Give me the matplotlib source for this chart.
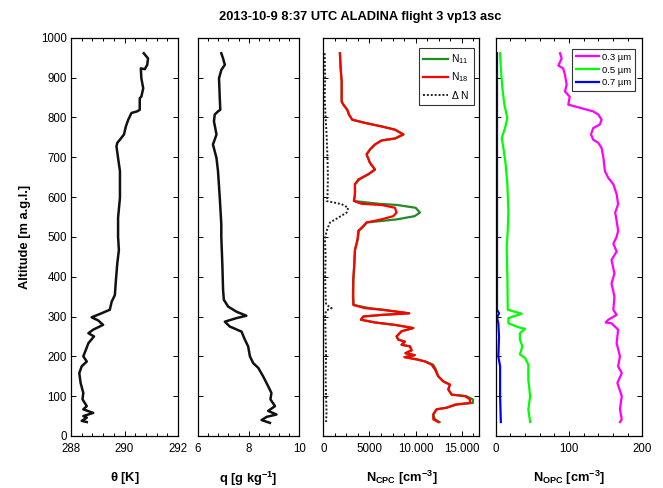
import matplotlib
matplotlib.use("Agg")
import matplotlib.pyplot as plt
from matplotlib.ticker import MultipleLocator, FixedLocator, FixedFormatter

plt.rcParams['font.family'] = ['Liberation Sans', 'DejaVu Sans']
plt.rcParams['mathtext.fontset'] = 'custom'
plt.rcParams['mathtext.rm'] = 'Liberation Sans'
plt.rcParams['mathtext.bf'] = 'Liberation Sans:bold'
plt.rcParams['mathtext.it'] = 'Liberation Sans:italic'

title = "2013-10-9 8:37 UTC ALADINA flight 3 vp13 asc"

# potential temperature
theta_alt = [961, 948, 932, 921, 923, 898, 873, 852, 848, 819, 815, 811, 794, 777, 757,
             744, 736, 727, 698, 665, 598, 548, 500, 467, 433, 392, 354, 337, 317, 308,
             298, 290, 279, 267, 258, 250, 233, 217, 200, 187, 175, 158, 133, 108, 92,
             75, 67, 58, 50, 46, 38, 35]
theta = [290.72, 290.88, 290.85, 290.76, 290.61, 290.63, 290.70, 290.63, 290.57, 290.57,
         290.47, 290.26, 290.14, 290.05, 289.98, 289.83, 289.73, 289.70, 289.76, 289.83,
         289.83, 289.76, 289.76, 289.79, 289.73, 289.68, 289.64, 289.52, 289.45, 289.14,
         288.77, 289.02, 289.20, 288.83, 288.65, 288.86, 288.65, 288.56, 288.46, 288.59,
         288.40, 288.31, 288.36, 288.46, 288.43, 288.59, 288.46, 288.83, 288.46, 288.59,
         288.40, 288.59]

# specific humidity
q_alt = [961, 948, 932, 919, 898, 848, 819, 815, 807, 790, 757, 744, 732, 698, 665,
         598, 532, 500, 433, 367, 342, 325, 312, 302, 296, 287, 275, 262, 242, 225,
         200, 183, 171, 150, 125, 108, 92, 75, 63, 54, 48, 40, 33]
q = [6.92, 6.99, 7.06, 6.92, 6.83, 6.86, 6.88, 6.79, 6.66, 6.63, 6.73, 6.66, 6.59, 6.73,
     6.79, 6.86, 6.92, 6.92, 6.96, 6.99, 7.02, 7.19, 7.52, 7.91, 7.52, 7.06, 7.25, 7.72,
     7.85, 7.98, 8.05, 8.18, 8.38, 8.57, 8.77, 8.90, 8.86, 9.04, 8.77, 9.10, 8.71, 8.51,
     8.84]

# CPC particle number concentrations
cpc_alt = [961, 923, 890, 840, 832, 819, 807, 794, 786, 777, 769, 757, 747, 742, 732,
           719, 707, 686, 669, 657, 644, 632, 607, 590, 583, 580, 573, 561, 552, 544,
           536, 527, 515, 494, 467, 433, 392, 350, 329, 321, 317, 308, 304, 300, 292,
           285, 279, 271, 263, 250, 242, 237, 229, 225, 215, 208, 203, 198, 192, 187,
           179, 167, 150, 137, 129, 117, 104, 100, 92, 83, 79, 71, 67, 54, 42, 35]
n18 = [1800, 1880, 1990, 1990, 2170, 2600, 2780, 3140, 4510, 6320, 7760, 8660, 7760, 6320,
       5600, 5050, 4690, 5050, 5600, 4870, 3790, 3430, 3430, 3320, 4150, 6320, 7760, 7940,
       7580, 6320, 4690, 4330, 3790, 3700, 3430, 3360, 3250, 3250, 3250, 4510, 6320, 9310,
       6320, 4330, 4080, 5600, 7760, 9750, 8480, 7940, 8120, 8840, 8480, 9390, 9570, 8900,
       9900, 8800, 10200, 11010, 11730, 12090, 12450, 13000, 13720, 13540, 13900, 15340,
       15880, 15880, 14260, 13360, 12270, 11910, 11910, 12450]
n11 = [1800, 1880, 1990, 1990, 2170, 2600, 2780, 3140, 4600, 6400, 7800, 8700, 7800, 6320,
       5600, 5050, 4690, 5050, 5600, 4870, 3900, 3430, 3430, 3320, 6000, 8000, 10000, 10470,
       9900, 8000, 4700, 4400, 3850, 3750, 3430, 3360, 3250, 3200, 3300, 5000, 6500, 9310,
       6320, 4330, 4080, 5600, 7760, 9750, 8480, 7940, 8120, 8840, 8480, 9390, 9570, 8900,
       9900, 8800, 10200, 11100, 11900, 12200, 12450, 13000, 13720, 13540, 13900, 15500,
       16200, 16200, 14500, 13360, 12270, 11910, 12100, 12600]
dn_alt = [961, 900, 850, 800, 760, 700, 650, 600, 590, 582, 573, 561, 548, 536, 515, 494,
          450, 400, 350, 330, 321, 315, 300, 250, 200, 150, 100, 60, 35]
dn = [150, 200, 150, 250, 350, 450, 500, 450, 360, 1990, 2700, 2530, 1620, 720, 360, 180,
      250, 200, 250, 300, 900, 300, 200, 250, 300, 250, 300, 350, 300]

# OPC size channels
o3_alt = [961, 948, 930, 923, 907, 882, 865, 852, 832, 825, 815, 807, 794, 782, 773,
          757, 744, 736, 723, 698, 665, 648, 632, 607, 582, 561, 540, 515, 500, 483,
          463, 442, 408, 383, 350, 317, 304, 292, 285, 283, 267, 233, 200, 175, 158,
          133, 100, 67, 42, 35]
o3 = [87.7, 90, 85.5, 92, 94.5, 96.8, 94.5, 101, 99, 113, 133, 140, 144.5, 142, 133,
      130, 133, 140, 144.5, 147, 149, 153.6, 160.5, 165, 167, 163, 165, 167, 165, 160.5,
      165, 158, 162, 158, 162, 160.5, 165, 153.6, 150, 158, 167, 165, 169.5, 167, 172,
      166, 172, 169.5, 172, 169.5]
o5_alt = [961, 916, 873, 832, 798, 773, 748, 723, 682, 632, 565, 515, 475, 392, 317,
          307, 296, 283, 273, 269, 258, 242, 225, 205, 196, 179, 142, 100, 67, 35]
o5 = [5.9, 7.3, 9.1, 11.8, 15.9, 12.7, 8.2, 10.5, 13.6, 15.9, 17.3, 16.4, 15, 16, 16.4,
      35.5, 17.3, 17.3, 31, 40, 33, 33, 36.4, 33, 40, 44.5, 44.5, 47, 44.5, 47]
o7_alt = [961, 700, 500, 317, 308, 298, 283, 250, 200, 175, 100, 35]
o7 = [1.8, 1.8, 1.8, 1.8, 4.5, 1.8, 3.6, 4.5, 3.6, 6, 6, 7]

W, H = 663, 488
fig = plt.figure(figsize=(W / 100, H / 100), dpi=100)

bottom = (H - 436) / H
height = (436 - 37.7) / H
lefts = [71, 198, 323.3, 495.7]
rights = [178, 299.3, 479.3, 642.3]
axes = [fig.add_axes([l / W, bottom, (r - l) / W, height]) for l, r in zip(lefts, rights)]

tick_fs = 8.3
label_fs = 9.3

for ax in axes:
    ax.set_ylim(0, 1000)
    ax.yaxis.set_major_locator(MultipleLocator(100))
    ax.tick_params(which='both', direction='in', top=True, right=True,
                   labelsize=tick_fs, width=0.7)
    ax.tick_params(axis='x', which='both', pad=5)
    ax.tick_params(axis='y', which='both', pad=3)
    ax.tick_params(which='major', length=3.5)
    ax.tick_params(which='minor', length=2)
    for s in ax.spines.values():
        s.set_linewidth(0.9)
    if ax is not axes[0]:
        ax.set_yticklabels([])

a1, a2, a3, a4 = axes

a1.plot(theta, theta_alt, color='#111111', lw=1.8)
a1.set_xlim(288, 292)
a1.xaxis.set_major_locator(FixedLocator([288, 290, 292]))
a1.xaxis.set_minor_locator(MultipleLocator(0.4))
a1.set_xlabel(r"$\mathbf{\theta}$ [K]", fontsize=label_fs, fontweight='bold', labelpad=11)
a1.set_ylabel("Altitude [m a.g.l.]", fontsize=label_fs, fontweight='bold', labelpad=7)

a2.plot(q, q_alt, color='#111111', lw=1.8)
a2.set_xlim(6, 10)
a2.xaxis.set_major_locator(FixedLocator([6, 8, 10]))
a2.xaxis.set_minor_locator(MultipleLocator(0.4))
a2.set_xlabel(r"q [g kg$^{\mathbf{-1}}$]", fontsize=label_fs, fontweight='bold', labelpad=11)

a3.plot(n11, cpc_alt, color='#228B22', lw=1.6, label=r"N$_{11}$")
a3.plot(n18, cpc_alt, color='#FF0000', lw=1.6, label=r"N$_{18}$")
a3.plot(dn, dn_alt, color='#222222', lw=1.4, ls=(0, (1, 1)), label=r"$\Delta$ N")
a3.set_xlim(0, 16900)
a3.xaxis.set_major_locator(FixedLocator([0, 5000, 10000, 15000]))
a3.xaxis.set_major_formatter(FixedFormatter(["0", "5000", "10.000", "15.000"]))
a3.xaxis.set_minor_locator(MultipleLocator(1250))
a3.set_xlabel(r"N$_{\mathbf{CPC}}$ [cm$^{\mathbf{-3}}$]", fontsize=label_fs,
              fontweight='bold', labelpad=10)
leg3 = a3.legend(loc='upper right', bbox_to_anchor=(474 / W, 1 - 48 / H),
                 bbox_transform=fig.transFigure, borderaxespad=0,
                 fontsize=7.5, frameon=True, fancybox=False,
                 borderpad=0.4, handlelength=2.4, handletextpad=0.3, labelspacing=0.45)
leg3.get_frame().set_edgecolor('black')
leg3.get_frame().set_linewidth(0.8)

a4.plot(o3, o3_alt, color='#FF00FF', lw=1.6, label="0.3 µm")
a4.plot(o5, o5_alt, color='#00FF00', lw=1.6, label="0.5 µm")
a4.plot(o7, o7_alt, color='#0000FF', lw=1.6, label="0.7 µm")
a4.set_xlim(0, 200)
a4.xaxis.set_major_locator(FixedLocator([0, 100, 200]))
a4.xaxis.set_minor_locator(MultipleLocator(20))
a4.set_xlabel(r"N$_{\mathbf{OPC}}$ [cm$^{\mathbf{-3}}$]", fontsize=label_fs,
              fontweight='bold', labelpad=10)
leg4 = a4.legend(loc='upper right', bbox_to_anchor=(635 / W, 1 - 49 / H),
                 bbox_transform=fig.transFigure, borderaxespad=0,
                 fontsize=6.8, frameon=True, fancybox=False,
                 borderpad=0.4, handlelength=2.5, handletextpad=0.3, labelspacing=0.4)
leg4.get_frame().set_edgecolor('black')
leg4.get_frame().set_linewidth(0.8)

fig.text(360 / W, 1 - 17 / H, title, ha='center', va='center',
         fontsize=label_fs, fontweight='bold')

fig.savefig("out.png", dpi=100, facecolor='white')
